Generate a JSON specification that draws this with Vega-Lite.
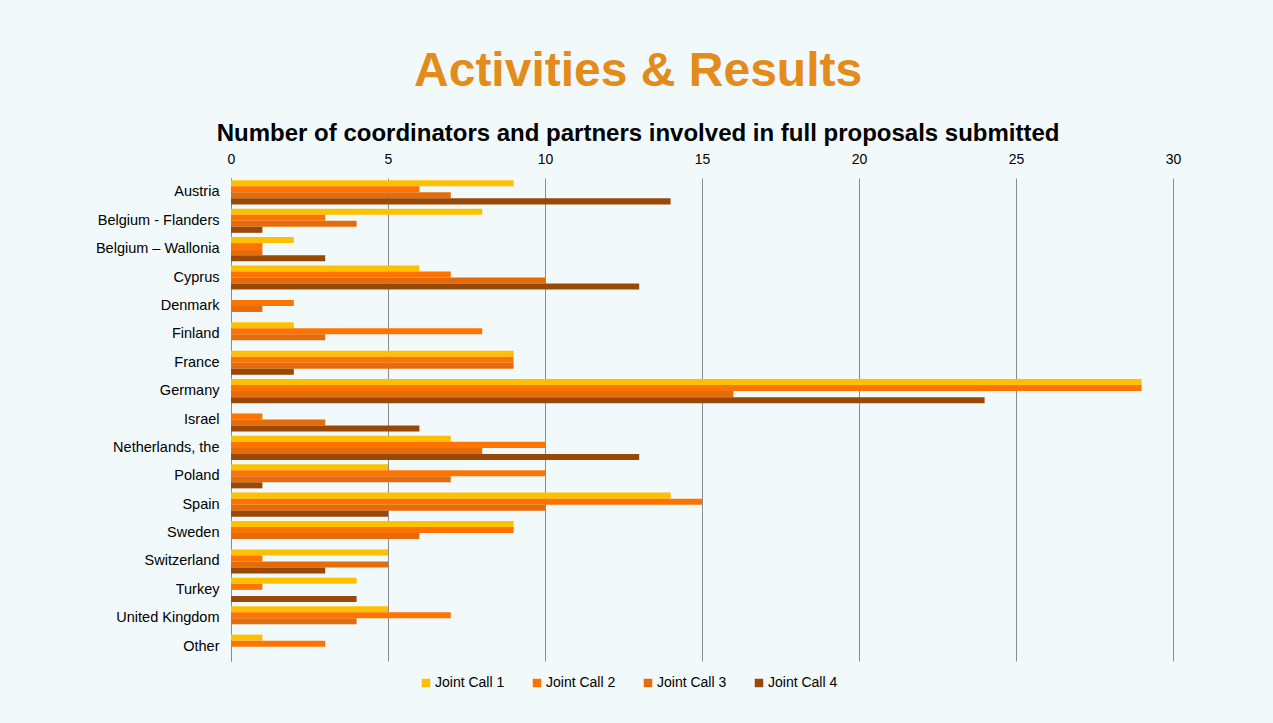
{
  "$schema": "https://vega.github.io/schema/vega-lite/v6.json",
  "width": 942,
  "height": 483,
  "autosize": {"type": "none"},
  "padding": {"left": 231, "top": 178, "right": 100, "bottom": 62},
  "background": "#f2f9fb",
  "config": {
    "font": "Liberation Sans",
    "view": {"stroke": null}
  },
  "title": {
    "text": "Activities & Results",
    "subtitle": "Number of coordinators and partners involved in full proposals submitted",
    "anchor": "middle",
    "frame": "bounds",
    "font": "Liberation Sans",
    "fontSize": 48,
    "fontWeight": "bold",
    "color": "#E38B1B",
    "subtitleFont": "Liberation Sans",
    "subtitleFontSize": 24,
    "subtitleFontWeight": "bold",
    "subtitleColor": "#000000",
    "subtitlePadding": 26,
    "offset": 6
  },
  "data": {
    "values": [
      {"country": "Austria", "call": "Joint Call 1", "value": 9},
      {"country": "Austria", "call": "Joint Call 2", "value": 6},
      {"country": "Austria", "call": "Joint Call 3", "value": 7},
      {"country": "Austria", "call": "Joint Call 4", "value": 14},
      {"country": "Belgium - Flanders", "call": "Joint Call 1", "value": 8},
      {"country": "Belgium - Flanders", "call": "Joint Call 2", "value": 3},
      {"country": "Belgium - Flanders", "call": "Joint Call 3", "value": 4},
      {"country": "Belgium - Flanders", "call": "Joint Call 4", "value": 1},
      {"country": "Belgium – Wallonia", "call": "Joint Call 1", "value": 2},
      {"country": "Belgium – Wallonia", "call": "Joint Call 2", "value": 1},
      {"country": "Belgium – Wallonia", "call": "Joint Call 3", "value": 1},
      {"country": "Belgium – Wallonia", "call": "Joint Call 4", "value": 3},
      {"country": "Cyprus", "call": "Joint Call 1", "value": 6},
      {"country": "Cyprus", "call": "Joint Call 2", "value": 7},
      {"country": "Cyprus", "call": "Joint Call 3", "value": 10},
      {"country": "Cyprus", "call": "Joint Call 4", "value": 13},
      {"country": "Denmark", "call": "Joint Call 1", "value": 0},
      {"country": "Denmark", "call": "Joint Call 2", "value": 2},
      {"country": "Denmark", "call": "Joint Call 3", "value": 1},
      {"country": "Denmark", "call": "Joint Call 4", "value": 0},
      {"country": "Finland", "call": "Joint Call 1", "value": 2},
      {"country": "Finland", "call": "Joint Call 2", "value": 8},
      {"country": "Finland", "call": "Joint Call 3", "value": 3},
      {"country": "Finland", "call": "Joint Call 4", "value": 0},
      {"country": "France", "call": "Joint Call 1", "value": 9},
      {"country": "France", "call": "Joint Call 2", "value": 9},
      {"country": "France", "call": "Joint Call 3", "value": 9},
      {"country": "France", "call": "Joint Call 4", "value": 2},
      {"country": "Germany", "call": "Joint Call 1", "value": 29},
      {"country": "Germany", "call": "Joint Call 2", "value": 29},
      {"country": "Germany", "call": "Joint Call 3", "value": 16},
      {"country": "Germany", "call": "Joint Call 4", "value": 24},
      {"country": "Israel", "call": "Joint Call 1", "value": 0},
      {"country": "Israel", "call": "Joint Call 2", "value": 1},
      {"country": "Israel", "call": "Joint Call 3", "value": 3},
      {"country": "Israel", "call": "Joint Call 4", "value": 6},
      {"country": "Netherlands, the", "call": "Joint Call 1", "value": 7},
      {"country": "Netherlands, the", "call": "Joint Call 2", "value": 10},
      {"country": "Netherlands, the", "call": "Joint Call 3", "value": 8},
      {"country": "Netherlands, the", "call": "Joint Call 4", "value": 13},
      {"country": "Poland", "call": "Joint Call 1", "value": 5},
      {"country": "Poland", "call": "Joint Call 2", "value": 10},
      {"country": "Poland", "call": "Joint Call 3", "value": 7},
      {"country": "Poland", "call": "Joint Call 4", "value": 1},
      {"country": "Spain", "call": "Joint Call 1", "value": 14},
      {"country": "Spain", "call": "Joint Call 2", "value": 15},
      {"country": "Spain", "call": "Joint Call 3", "value": 10},
      {"country": "Spain", "call": "Joint Call 4", "value": 5},
      {"country": "Sweden", "call": "Joint Call 1", "value": 9},
      {"country": "Sweden", "call": "Joint Call 2", "value": 9},
      {"country": "Sweden", "call": "Joint Call 3", "value": 6},
      {"country": "Sweden", "call": "Joint Call 4", "value": 0},
      {"country": "Switzerland", "call": "Joint Call 1", "value": 5},
      {"country": "Switzerland", "call": "Joint Call 2", "value": 1},
      {"country": "Switzerland", "call": "Joint Call 3", "value": 5},
      {"country": "Switzerland", "call": "Joint Call 4", "value": 3},
      {"country": "Turkey", "call": "Joint Call 1", "value": 4},
      {"country": "Turkey", "call": "Joint Call 2", "value": 1},
      {"country": "Turkey", "call": "Joint Call 3", "value": 0},
      {"country": "Turkey", "call": "Joint Call 4", "value": 4},
      {"country": "United Kingdom", "call": "Joint Call 1", "value": 5},
      {"country": "United Kingdom", "call": "Joint Call 2", "value": 7},
      {"country": "United Kingdom", "call": "Joint Call 3", "value": 4},
      {"country": "United Kingdom", "call": "Joint Call 4", "value": 0},
      {"country": "Other", "call": "Joint Call 1", "value": 1},
      {"country": "Other", "call": "Joint Call 2", "value": 3},
      {"country": "Other", "call": "Joint Call 3", "value": 0},
      {"country": "Other", "call": "Joint Call 4", "value": 0}
    ]
  },
  "mark": {"type": "bar", "cornerRadius": 0},
  "encoding": {
    "y": {
      "field": "country",
      "type": "nominal",
      "sort": null,
      "scale": {"paddingInner": 0.15, "paddingOuter": 0.08},
      "axis": {
        "title": null,
        "ticks": false,
        "tickSize": 0,
        "labelPadding": 12,
        "labelFontSize": 14.5,
        "labelColor": "#000000",
        "labelFont": "Liberation Sans",
        "domain": true,
        "domainColor": "#8c8c8c",
        "domainWidth": 1,
        "grid": false,
        "labelLimit": 300
      }
    },
    "yOffset": {
      "field": "call",
      "type": "nominal",
      "scale": {"paddingInner": 0, "paddingOuter": 0}
    },
    "x": {
      "field": "value",
      "type": "quantitative",
      "scale": {"domain": [0, 30], "nice": false},
      "axis": {
        "orient": "top",
        "title": null,
        "values": [0, 5, 10, 15, 20, 25, 30],
        "ticks": false,
        "tickSize": 0,
        "labelPadding": 12,
        "labelFontSize": 14,
        "labelColor": "#000000",
        "labelFont": "Liberation Sans",
        "labelFlush": false,
        "domain": false,
        "grid": true,
        "gridColor": "#8c8c8c",
        "gridWidth": 1,
        "gridOpacity": 1
      }
    },
    "color": {
      "field": "call",
      "type": "nominal",
      "scale": {
        "domain": ["Joint Call 1", "Joint Call 2", "Joint Call 3", "Joint Call 4"],
        "range": ["#FFC000", "#FF7400", "#E46C0A", "#984807"]
      },
      "legend": {
        "title": null,
        "orient": "none",
        "legendX": 188,
        "legendY": 498,
        "direction": "horizontal",
        "columns": 4,
        "symbolType": "square",
        "symbolSize": 72,
        "symbolStrokeWidth": 0,
        "labelFontSize": 14,
        "labelFont": "Liberation Sans",
        "labelColor": "#000000",
        "labelOffset": 2,
        "columnPadding": 25
      }
    }
  }
}
